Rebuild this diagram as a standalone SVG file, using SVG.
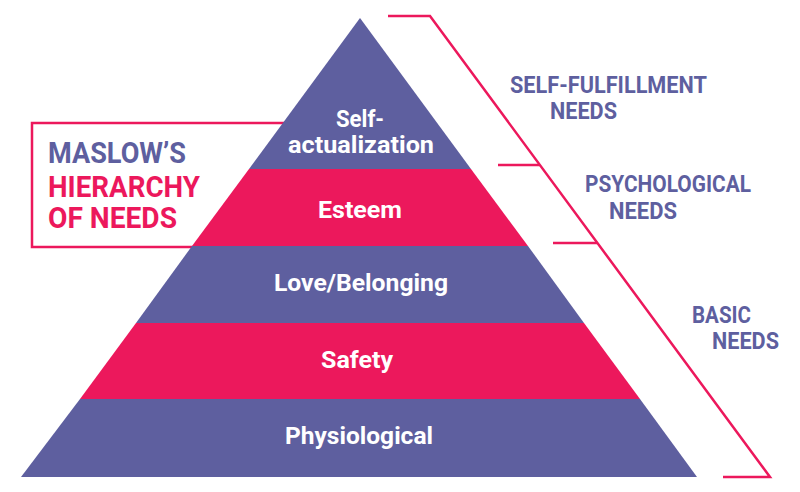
<svg xmlns="http://www.w3.org/2000/svg" width="800" height="492" viewBox="0 0 800 492">
<style>
.purple{fill:#5e5f9f}
.pink{fill:#ec185c}
.lbl{font-family:Roboto,"Liberation Sans",sans-serif;font-weight:bold;font-size:23px;fill:#fff;text-anchor:start}
.ttl{font-family:Roboto,"Liberation Sans",sans-serif;font-weight:bold;font-size:29px}
.side{font-family:Roboto,"Liberation Sans",sans-serif;font-weight:bold;font-size:24px;fill:#5e5f9f}
.ln{fill:none;stroke:#ec185c;stroke-width:2.5}
</style>
<rect width="800" height="492" fill="#fff"/>
<g id="title">
<rect x="32" y="123" width="300" height="124" class="ln"/>
<text class="ttl" x="48" y="163" fill="#5e5f9f" textLength="138" lengthAdjust="spacingAndGlyphs">MASLOW’S</text>
<text class="ttl" x="48" y="197" fill="#ec185c" textLength="152" lengthAdjust="spacingAndGlyphs">HIERARCHY</text>
<text class="ttl" x="48" y="228" fill="#ec185c" textLength="129" lengthAdjust="spacingAndGlyphs">OF NEEDS</text>
</g>
<g id="level-self-actualization">
<polygon class="purple" points="360,18 471,169 249,169"/>
<text class="lbl" x="336" y="127" textLength="48" lengthAdjust="spacingAndGlyphs">Self-</text>
<text class="lbl" x="288" y="153" textLength="146" lengthAdjust="spacingAndGlyphs">actualization</text>
</g>
<g id="level-esteem">
<polygon class="pink" points="249,169 471,169 528,246 192,246"/>
<text class="lbl" x="318" y="218" textLength="84" lengthAdjust="spacingAndGlyphs">Esteem</text>
</g>
<g id="level-love">
<polygon class="purple" points="192,246 528,246 584,323 136,323"/>
<text class="lbl" x="274" y="291" textLength="174" lengthAdjust="spacingAndGlyphs">Love/Belonging</text>
</g>
<g id="level-safety">
<polygon class="pink" points="136,323 584,323 640,399 80,399"/>
<text class="lbl" x="321" y="368" textLength="72" lengthAdjust="spacingAndGlyphs">Safety</text>
</g>
<g id="level-physiological">
<polygon class="purple" points="80,399 640,399 697,477 21,477"/>
<text class="lbl" x="285" y="444" textLength="148" lengthAdjust="spacingAndGlyphs">Physiological</text>
</g>
<g id="connectors">
<polyline class="ln" points="388,16 430,16 770,477 723,477"/>
<line class="ln" x1="498" y1="165" x2="540" y2="165"/>
<line class="ln" x1="553" y1="243" x2="597" y2="243"/>
</g>
<g id="self-fulfillment">
<text class="side" x="510" y="93" textLength="197" lengthAdjust="spacingAndGlyphs">SELF-FULFILLMENT</text>
<text class="side" x="550" y="119" textLength="67" lengthAdjust="spacingAndGlyphs">NEEDS</text>
</g>
<g id="psychological">
<text class="side" x="585" y="192" textLength="166" lengthAdjust="spacingAndGlyphs">PSYCHOLOGICAL</text>
<text class="side" x="609" y="219" textLength="68" lengthAdjust="spacingAndGlyphs">NEEDS</text>
</g>
<g id="basic">
<text class="side" x="692" y="323" textLength="59" lengthAdjust="spacingAndGlyphs">BASIC</text>
<text class="side" x="712" y="349" textLength="67" lengthAdjust="spacingAndGlyphs">NEEDS</text>
</g>
</svg>
